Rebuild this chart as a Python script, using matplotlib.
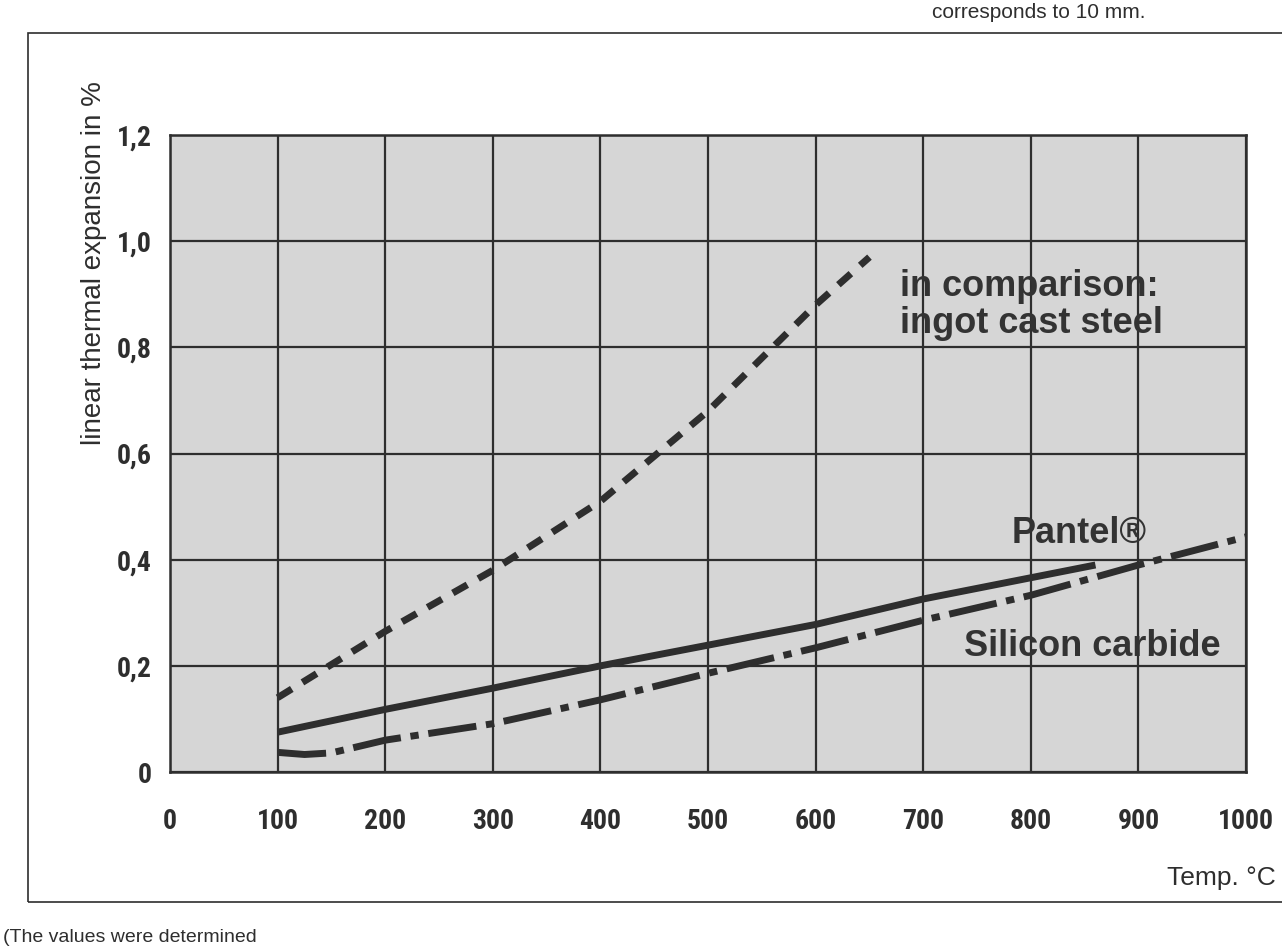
import matplotlib
matplotlib.use('Agg')
import matplotlib.pyplot as plt
from matplotlib import font_manager
from matplotlib.font_manager import FontProperties
from matplotlib.patches import Rectangle

# values
temp_steel = [100, 200, 300, 400, 500, 600, 650]
steel = [0.14, 0.265, 0.38, 0.51, 0.68, 0.88, 0.97]

temp_pantel = [100, 200, 300, 400, 500, 600, 700, 800, 860]
pantel = [0.075, 0.118, 0.158, 0.2, 0.239, 0.278, 0.326, 0.366, 0.39]

temp_sic = [100, 125, 150, 200, 300, 400, 500, 600, 700, 800, 900, 1000]
sic = [0.037, 0.033, 0.036, 0.06, 0.091, 0.136, 0.186, 0.234, 0.286,
       0.333, 0.39, 0.443]

xticks = [0, 100, 200, 300, 400, 500, 600, 700, 800, 900, 1000]
yticks = [0, 0.2, 0.4, 0.6, 0.8, 1.0, 1.2]
ylabels = ['0', '0,2', '0,4', '0,6', '0,8', '1,0', '1,2']

plt.rcParams['font.family'] = ['Liberation Sans', 'DejaVu Sans']
plt.rcParams['lines.scale_dashes'] = False

# look for a narrow bold face for the tick numbers
def pick_narrow():
    best = None
    for f in font_manager.fontManager.ttflist:
        nm = f.name + ' ' + f.fname
        narrowish = ('Narrow' in nm or 'Condensed' in nm or
                     str(f.stretch) in ('condensed', 'semi-condensed', 'extra-condensed'))
        if not narrowish:
            continue
        w = f.weight if isinstance(f.weight, int) else 700 if 'bold' in str(f.weight) else 400
        score = (w >= 600, 'Liberation' in nm or 'Roboto' in nm)
        if best is None or score > best[0]:
            best = (score, f.fname)
    if best is None:
        return FontProperties(family='Liberation Sans', weight='bold')
    return FontProperties(fname=best[1], weight='bold')

tick_font = pick_narrow()
tick_font.set_size(20)

ink = '#2e2e2e'
fig = plt.figure(figsize=(12.82, 9.49), dpi=100)
ax = fig.add_axes([0.1326, 0.1865, 0.8394, 0.6712])
ax.set_facecolor('#d6d6d6')

ax.plot(temp_steel, steel, color=ink, lw=5, dashes=(12, 9),
        solid_capstyle='butt', dash_capstyle='butt')
ax.plot(temp_pantel, pantel, color=ink, lw=5, solid_capstyle='butt')
ax.plot(temp_sic, sic, color=ink, lw=5, dashes=(35, 7, 6, 7),
        dash_capstyle='butt')

ax.set_xlim(0, 1000)
ax.set_ylim(0, 1.2)
ax.set_xticks(xticks)
ax.set_yticks(yticks)
ax.set_yticklabels(ylabels)
ax.grid(True, color=ink, lw=1.6)
ax.set_axisbelow(True)
ax.tick_params(length=0, labelcolor=ink)
ax.tick_params(axis='x', pad=26)
ax.tick_params(axis='y', pad=13)
for lab in ax.get_xticklabels() + ax.get_yticklabels():
    lab.set_fontproperties(tick_font)
for sp in ax.spines.values():
    sp.set_color(ink)
    sp.set_linewidth(1.8)

bold = dict(fontsize=26, fontweight='bold', color='#333333')
ax.text(678, 0.88, 'in comparison:\ningot cast steel', ha='left', va='center',
        linespacing=1.1, **bold)
ax.text(845, 0.45, 'Pantel®', ha='center', va='center', **bold)
ax.text(857, 0.237, 'Silicon carbide', ha='center', va='center', **bold)

fig.text(0.073, 0.915, 'linear thermal expansion in %', rotation=90,
         ha='center', va='top', fontsize=20, color=ink)
fig.text(0.995, 0.075, 'Temp. °C', ha='right', va='center', fontsize=19,
         color=ink)

# outer frame of the scanned page and the notes around it
fig.patches.append(Rectangle((0.022, 0.05), 1.0, 0.915, transform=fig.transFigure,
                             fill=False, ec=ink, lw=1.2, clip_on=False))
fig.text(0.81, 0.997, 'corresponds to 10 mm.', ha='center', va='top',
         fontsize=15, color=ink)
fig.text(0.002, 0.003, '(The values were determined', ha='left', va='bottom',
         fontsize=14, color=ink)

fig.savefig('out.png', dpi=100)
